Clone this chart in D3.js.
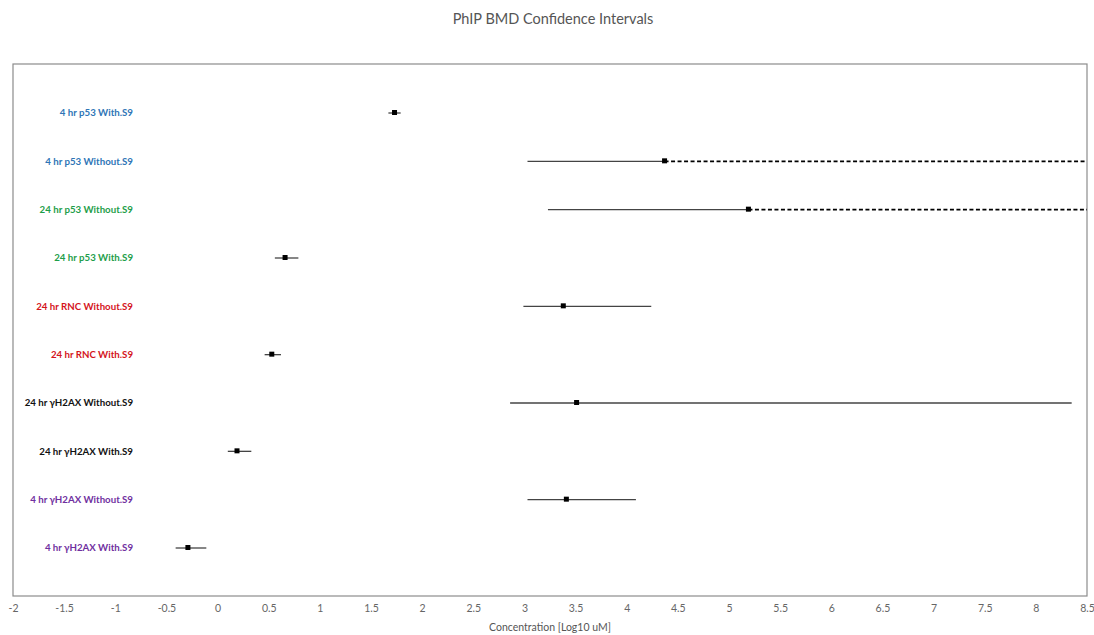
<!DOCTYPE html>
<html>
<head>
<meta charset="utf-8">
<script src="https://cdn.jsdelivr.net/npm/d3@7"></script>
<style>
  body { margin: 0; background: #fff; }
  text { font-family: Lato, "Open Sans", sans-serif; }
</style>
</head>
<body>
<div id="chart"></div>
<script>
// rows, top to bottom
var labels = ["4 hr p53 With.S9", "4 hr p53 Without.S9", "24 hr p53 Without.S9", "24 hr p53 With.S9",
              "24 hr RNC Without.S9", "24 hr RNC With.S9", "24 hr \u03b3H2AX Without.S9", "24 hr \u03b3H2AX With.S9",
              "4 hr \u03b3H2AX Without.S9", "4 hr \u03b3H2AX With.S9"];
var groups = ["blue", "blue", "green", "green", "red", "red", "black", "black", "purple", "purple"];
var bmdl = [1.67, 3.03, 3.23, 0.56, 2.99, 0.46, 2.86, 0.10, 3.03, -0.41];
var bmd  = [1.73, 4.37, 5.19, 0.66, 3.38, 0.53, 3.51, 0.19, 3.41, -0.29];
// null = upper bound off the scale (drawn dashed)
var bmdu = [1.79, null, null, 0.79, 4.24, 0.62, 8.35, 0.33, 4.09, -0.11];
var ticks = d3.range(-2, 8.51, 0.5);

var colors = {blue: "#2e75b6", green: "#1e9e4a", red: "#d4141c", black: "#111", purple: "#7030a0"};

var svg = d3.select("#chart").append("svg").attr("width", 1094).attr("height", 635),
    margin = {top: 64, right: 7, bottom: 39, left: 13},
    width = 1094 - margin.left - margin.right,
    height = 635 - margin.top - margin.bottom;

var x = d3.scaleLinear().domain([-2, 8.5]).range([margin.left, margin.left + width]);
var y = d3.scalePoint().domain(d3.range(labels.length)).range([113, 548]);

svg.append("text")
    .attr("x", 553).attr("y", 24)
    .attr("text-anchor", "middle")
    .attr("font-size", 14.5)
    .attr("fill", "#555")
    .text("PhIP BMD Confidence  Intervals");

svg.append("rect")
    .attr("x", margin.left).attr("y", margin.top)
    .attr("width", width).attr("height", height)
    .attr("fill", "none").attr("stroke", "#8c8c8c").attr("stroke-width", 1.2);

var axis = svg.append("g")
    .attr("transform", "translate(0," + (margin.top + height) + ")")
    .call(d3.axisBottom(x).tickValues(ticks).tickSize(0).tickPadding(9).tickFormat(function(d) { return d; }));
axis.select(".domain").remove();
axis.selectAll("text").attr("font-size", 10.5).attr("fill", "#666").style("font-family", "Lato, sans-serif");

svg.append("text")
    .attr("x", 550).attr("y", 631)
    .attr("text-anchor", "middle")
    .attr("font-size", 10.5)
    .attr("fill", "#555")
    .text("Concentration  [Log10 uM]");

var row = svg.append("g").selectAll("g")
    .data(labels)
    .enter().append("g");

row.append("text")
    .attr("x", 133)
    .attr("y", function(d, i) { return y(i); })
    .attr("dy", "0.35em")
    .attr("text-anchor", "end")
    .attr("font-size", 9.7)
    .attr("font-weight", "bold")
    .attr("fill", function(d, i) { return colors[groups[i]]; })
    .text(function(d) { return d; });

row.append("line")
    .attr("x1", function(d, i) { return x(bmdl[i]); })
    .attr("x2", function(d, i) { return x(bmd[i]); })
    .attr("y1", function(d, i) { return y(i); })
    .attr("y2", function(d, i) { return y(i); })
    .attr("stroke", "#444").attr("stroke-width", 1.3);

row.append("line")
    .attr("x1", function(d, i) { return x(bmd[i]); })
    .attr("x2", function(d, i) { return x(bmdu[i] === null ? 8.5 : bmdu[i]); })
    .attr("y1", function(d, i) { return y(i); })
    .attr("y2", function(d, i) { return y(i); })
    .attr("stroke", function(d, i) { return bmdu[i] === null ? "#000" : "#444"; })
    .attr("stroke-width", function(d, i) { return bmdu[i] === null ? 1.6 : 1.3; })
    .attr("stroke-dasharray", function(d, i) { return bmdu[i] === null ? "4,2.5" : null; });

row.append("rect")
    .attr("x", function(d, i) { return x(bmd[i]) - 2.5; })
    .attr("y", function(d, i) { return y(i) - 3; })
    .attr("width", 5).attr("height", 5)
    .attr("fill", "#000");
</script>
</body>
</html>
